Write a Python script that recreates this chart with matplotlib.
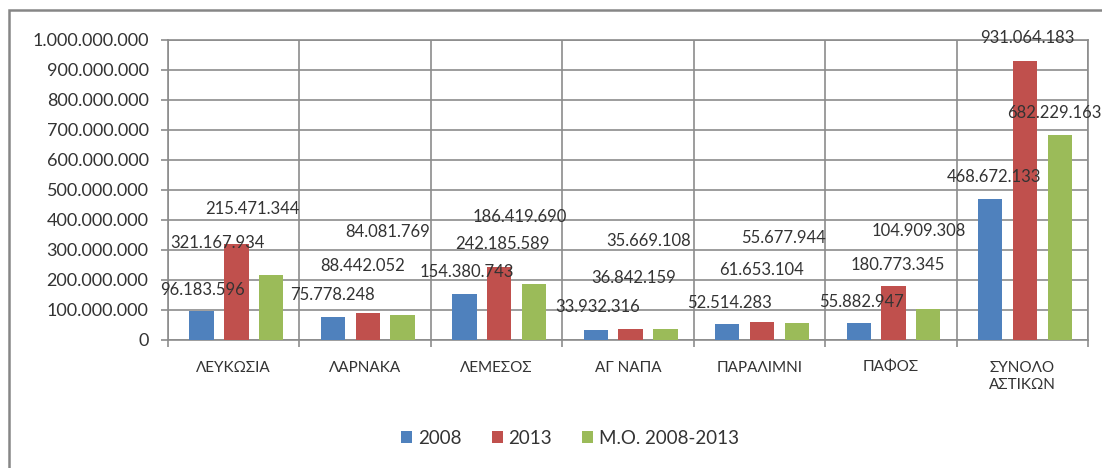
import matplotlib
matplotlib.use("Agg")
import matplotlib.pyplot as plt
from matplotlib.patches import Rectangle
from matplotlib.ticker import FuncFormatter
import numpy as np

plt.rcParams['font.family'] = ['Lato', 'DejaVu Sans']

# data
categories = ["ΛΕΥΚΩΣΙΑ", "ΛΑΡΝΑΚΑ", "ΛΕΜΕΣΟΣ", "ΑΓ ΝΑΠΑ", "ΠΑΡΑΛΙΜΝΙ", "ΠΑΦΟΣ", "ΣΥΝΟΛΟ\nΑΣΤΙΚΩΝ"]
series_names = ["2008", "2013", "Μ.Ο. 2008-2013"]
vals_2008 = [96183596, 75778248, 154380743, 33932316, 52514283, 55882947, 468672133]
vals_2013 = [321167934, 88442052, 242185589, 36842159, 61653104, 180773345, 931064183]
vals_avg = [215471344, 84081769, 186419690, 35669108, 55677944, 104909308, 682229163]
colors = ["#4F81BD", "#C0504D", "#9BBB59"]

# where the data labels sit (manually dragged in the original)
lab_dx = [[-0.24, -0.245, -0.23, -0.23, -0.23, -0.22, -0.215],
          [-0.12, -0.02, 0.045, 0.04, 0.015, 0.055, 0.04],
          [0.14, 0.17, 0.175, 0.155, 0.18, 0.21, 0.245]]
lab_y = [[0.167e9, 0.150e9, 0.227e9, 0.110e9, 0.123e9, 0.127e9, 0.543e9],
         [0.323e9, 0.247e9, 0.320e9, 0.207e9, 0.233e9, 0.250e9, 1.007e9],
         [0.437e9, 0.360e9, 0.410e9, 0.330e9, 0.340e9, 0.363e9, 0.757e9]]

def fmt(v):
    return f"{int(v):,}".replace(",", ".")

fig = plt.figure(figsize=(11.02, 4.68), dpi=100)
ax = fig.add_axes([168 / 1102, 1 - 340 / 468, (1088 - 168) / 1102, 300 / 468])

grid_c = "#8c8c8c"
x = np.arange(len(categories))
step = 0.265
width = 0.185
all_vals = [vals_2008, vals_2013, vals_avg]
bars = []
for i, vals in enumerate(all_vals):
    b = ax.bar(x + (i - 1) * step + 0.02, vals, width, color=colors[i], label=series_names[i], zorder=3)
    bars.append(b)
    for j, v in enumerate(vals):
        ax.text(j + lab_dx[i][j], lab_y[i][j], fmt(v), ha='center', va='center',
                fontsize=12, color="#333333", zorder=4, clip_on=False)

ax.set_xlim(-0.5, len(categories) - 0.5)
ax.set_ylim(0, 1e9)
ax.set_yticks(np.arange(0, 1.0e9 + 1, 1e8))
ax.yaxis.set_major_formatter(FuncFormatter(lambda v, p: fmt(v)))
ax.set_xticks(x)
ax.set_xticklabels(categories, fontsize=11, color="#333333", linespacing=1.3)
ax.set_xticks(np.arange(-0.5, len(categories)), minor=True)
ax.tick_params(axis='x', which='major', length=0, pad=15)
ax.tick_params(axis='x', which='minor', length=5, color=grid_c, width=1.2)
ax.tick_params(axis='y', length=5, color=grid_c, width=1.2, pad=9, labelsize=13, labelcolor="#333333")

ax.grid(axis='y', color=grid_c, linewidth=1.2, zorder=0)
ax.grid(axis='x', which='minor', color=grid_c, linewidth=1.2, zorder=0)
for s in ax.spines.values():
    s.set_color(grid_c)
    s.set_linewidth(1.2)

fig.legend(handles=bars, labels=series_names, loc='center', bbox_to_anchor=(570 / 1102, 1 - 438 / 468),
           ncol=3, frameon=False, fontsize=13.5, handlelength=0.6, handleheight=0.6,
           handletextpad=0.3, columnspacing=1.6, labelcolor="#333333")

# outer chart frame (right and bottom edges fall outside the image)
fig.patches.append(Rectangle((9 / 1102, -0.05), 1.1, 1.05 - 10 / 468, transform=fig.transFigure,
                             fill=False, edgecolor="#868686", linewidth=1.8, zorder=0))

fig.savefig("out.png", dpi=100)
